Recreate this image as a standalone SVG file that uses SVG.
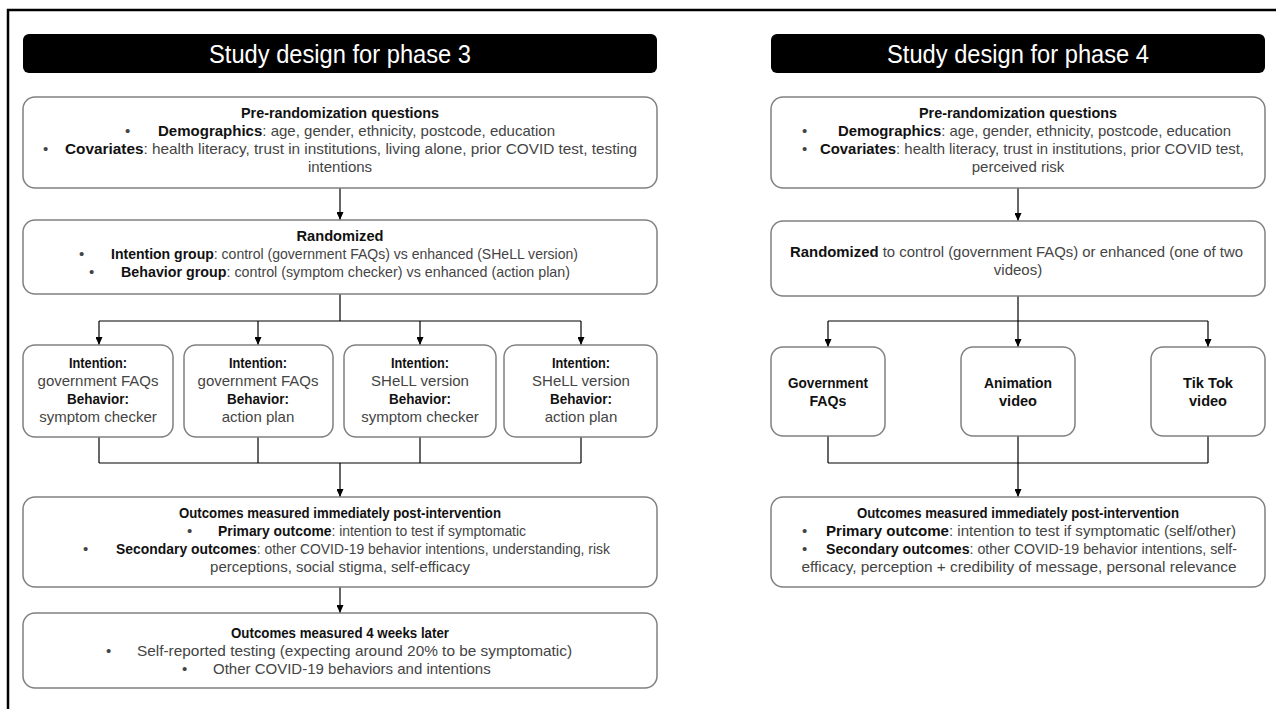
<svg xmlns="http://www.w3.org/2000/svg" width="1276" height="709" viewBox="0 0 1276 709">
<defs>
<style>
.t{font-family:'Liberation Sans',Arial,sans-serif;font-size:15px;fill:#444}
.b{font-weight:bold;fill:#111}
.m{text-anchor:middle}
.box{fill:#fff;stroke:#808080;stroke-width:1.5}
.hdr{fill:#000}
.ht{font-family:'Liberation Sans',Arial,sans-serif;font-size:25px;fill:#fff;text-anchor:middle}
.c{stroke:#000;stroke-width:1.2;fill:none}
.a{stroke:#000;stroke-width:1.2;fill:none;marker-end:url(#ah)}
</style>
<marker id="ah" markerUnits="userSpaceOnUse" markerWidth="8" markerHeight="7" refX="8" refY="3.5" orient="auto" viewBox="0 0 8 7">
<path d="M0,0 L8,3.5 L0,7 z" fill="#000"/>
</marker>
</defs>
<rect width="1276" height="709" fill="#fff"/>
<rect x="8" y="10" width="1320" height="760" fill="none" stroke="#000" stroke-width="2.5"/>

<g id="connectors">
<line class="a" x1="340" y1="188" x2="340" y2="220"/>
<line class="c" x1="340" y1="294" x2="340" y2="321"/>
<line class="c" x1="99" y1="321" x2="581" y2="321"/>
<line class="a" x1="99" y1="321" x2="99" y2="345"/>
<line class="a" x1="258" y1="321" x2="258" y2="345"/>
<line class="a" x1="420" y1="321" x2="420" y2="345"/>
<line class="a" x1="581" y1="321" x2="581" y2="345"/>
<line class="c" x1="99" y1="437" x2="99" y2="463"/>
<line class="c" x1="258" y1="437" x2="258" y2="463"/>
<line class="c" x1="420" y1="437" x2="420" y2="463"/>
<line class="c" x1="581" y1="437" x2="581" y2="463"/>
<line class="c" x1="99" y1="463" x2="581" y2="463"/>
<line class="a" x1="340" y1="463" x2="340" y2="497"/>
<line class="a" x1="340" y1="587" x2="340" y2="613"/>

<line class="a" x1="1018" y1="188" x2="1018" y2="221"/>
<line class="c" x1="1018" y1="296" x2="1018" y2="321"/>
<line class="c" x1="828" y1="321" x2="1208" y2="321"/>
<line class="a" x1="828" y1="321" x2="828" y2="347"/>
<line class="a" x1="1018" y1="321" x2="1018" y2="347"/>
<line class="a" x1="1208" y1="321" x2="1208" y2="347"/>
<line class="c" x1="828" y1="436" x2="828" y2="463"/>
<line class="c" x1="1208" y1="436" x2="1208" y2="463"/>
<line class="c" x1="828" y1="463" x2="1208" y2="463"/>
<line class="a" x1="1018" y1="436" x2="1018" y2="497"/>
</g>

<g id="header3">
<rect class="hdr" x="23" y="34" width="634" height="39" rx="6"/>
<text class="ht" x="340" y="63" textLength="262" lengthAdjust="spacingAndGlyphs">Study design for phase 3</text>
</g>
<g id="header4">
<rect class="hdr" x="771" y="34" width="494" height="39" rx="6"/>
<text class="ht" x="1018" y="63" textLength="262" lengthAdjust="spacingAndGlyphs">Study design for phase 4</text>
</g>

<g id="p3-pre">
<rect class="box" x="23" y="97" width="634" height="91" rx="12"/>
<text class="t b m" x="340" y="118" textLength="198" lengthAdjust="spacingAndGlyphs">Pre-randomization questions</text>
<text class="t" x="125" y="136">•</text>
<text class="t" x="158" y="136" textLength="397" lengthAdjust="spacingAndGlyphs"><tspan class="b">Demographics</tspan>: age, gender, ethnicity, postcode, education</text>
<text class="t" x="43" y="154">•</text>
<text class="t" x="65" y="154" textLength="572" lengthAdjust="spacingAndGlyphs"><tspan class="b">Covariates</tspan>: health literacy, trust in institutions, living alone, prior COVID test, testing</text>
<text class="t m" x="340" y="172">intentions</text>
</g>

<g id="p3-rand">
<rect class="box" x="23" y="220" width="634" height="74" rx="12"/>
<text class="t b m" x="340" y="241" textLength="87" lengthAdjust="spacingAndGlyphs">Randomized</text>
<text class="t" x="79" y="259">•</text>
<text class="t" x="111" y="259" textLength="467" lengthAdjust="spacingAndGlyphs"><tspan class="b">Intention group</tspan>: control (government FAQs) vs enhanced (SHeLL version)</text>
<text class="t" x="89" y="277">•</text>
<text class="t" x="121" y="277" textLength="449" lengthAdjust="spacingAndGlyphs"><tspan class="b">Behavior group</tspan>: control (symptom checker) vs enhanced (action plan)</text>
</g>

<g id="p3-arm1">
<rect class="box" x="23" y="345" width="150" height="92" rx="12"/>
<text class="t b m" x="98" y="368" textLength="58" lengthAdjust="spacingAndGlyphs">Intention:</text>
<text class="t m" x="98" y="386">government FAQs</text>
<text class="t b m" x="98" y="404" textLength="62" lengthAdjust="spacingAndGlyphs">Behavior:</text>
<text class="t m" x="98" y="422">symptom checker</text>
</g>
<g id="p3-arm2">
<rect class="box" x="184" y="345" width="149" height="92" rx="12"/>
<text class="t b m" x="258" y="368" textLength="58" lengthAdjust="spacingAndGlyphs">Intention:</text>
<text class="t m" x="258" y="386">government FAQs</text>
<text class="t b m" x="258" y="404" textLength="62" lengthAdjust="spacingAndGlyphs">Behavior:</text>
<text class="t m" x="258" y="422">action plan</text>
</g>
<g id="p3-arm3">
<rect class="box" x="344" y="345" width="152" height="92" rx="12"/>
<text class="t b m" x="420" y="368" textLength="58" lengthAdjust="spacingAndGlyphs">Intention:</text>
<text class="t m" x="420" y="386">SHeLL version</text>
<text class="t b m" x="420" y="404" textLength="62" lengthAdjust="spacingAndGlyphs">Behavior:</text>
<text class="t m" x="420" y="422">symptom checker</text>
</g>
<g id="p3-arm4">
<rect class="box" x="504" y="345" width="153" height="92" rx="12"/>
<text class="t b m" x="581" y="368" textLength="58" lengthAdjust="spacingAndGlyphs">Intention:</text>
<text class="t m" x="581" y="386">SHeLL version</text>
<text class="t b m" x="581" y="404" textLength="62" lengthAdjust="spacingAndGlyphs">Behavior:</text>
<text class="t m" x="581" y="422">action plan</text>
</g>

<g id="p3-out1">
<rect class="box" x="23" y="497" width="634" height="90" rx="12"/>
<text class="t b m" x="340" y="518" textLength="322" lengthAdjust="spacingAndGlyphs">Outcomes measured immediately post-intervention</text>
<text class="t" x="187" y="536">•</text>
<text class="t" x="218" y="536" textLength="308" lengthAdjust="spacingAndGlyphs"><tspan class="b">Primary outcome</tspan>: intention to test if symptomatic</text>
<text class="t" x="83" y="554">•</text>
<text class="t" x="116" y="554" textLength="494" lengthAdjust="spacingAndGlyphs"><tspan class="b">Secondary outcomes</tspan>: other COVID-19 behavior intentions, understanding, risk</text>
<text class="t m" x="340" y="572">perceptions, social stigma, self-efficacy</text>
</g>

<g id="p3-out2">
<rect class="box" x="23" y="613" width="634" height="75" rx="12"/>
<text class="t b m" x="340" y="638" textLength="218" lengthAdjust="spacingAndGlyphs">Outcomes measured 4 weeks later</text>
<text class="t" x="106" y="656">•</text>
<text class="t" x="137" y="656" textLength="435" lengthAdjust="spacingAndGlyphs">Self-reported testing (expecting around 20% to be symptomatic)</text>
<text class="t" x="182" y="674">•</text>
<text class="t" x="213" y="674">Other COVID-19 behaviors and intentions</text>
</g>

<g id="p4-pre">
<rect class="box" x="771" y="97" width="494" height="91" rx="12"/>
<text class="t b m" x="1018" y="118" textLength="198" lengthAdjust="spacingAndGlyphs">Pre-randomization questions</text>
<text class="t" x="802" y="136">•</text>
<text class="t" x="838" y="136" textLength="393" lengthAdjust="spacingAndGlyphs"><tspan class="b">Demographics</tspan>: age, gender, ethnicity, postcode, education</text>
<text class="t" x="802" y="154">•</text>
<text class="t" x="820" y="154" textLength="424" lengthAdjust="spacingAndGlyphs"><tspan class="b">Covariates</tspan>: health literacy, trust in institutions, prior COVID test,</text>
<text class="t m" x="1018" y="172">perceived risk</text>
</g>

<g id="p4-rand">
<rect class="box" x="771" y="221" width="494" height="75" rx="12"/>
<text class="t" x="790" y="257" textLength="453" lengthAdjust="spacingAndGlyphs"><tspan class="b">Randomized</tspan> to control (government FAQs) or enhanced (one of two</text>
<text class="t m" x="1018" y="275">videos)</text>
</g>

<g id="p4-arm1">
<rect class="box" x="771" y="347" width="114" height="89" rx="12"/>
<text class="t b m" x="828" y="388" textLength="80" lengthAdjust="spacingAndGlyphs">Government</text>
<text class="t b m" x="828" y="406" textLength="37" lengthAdjust="spacingAndGlyphs">FAQs</text>
</g>
<g id="p4-arm2">
<rect class="box" x="961" y="347" width="114" height="89" rx="12"/>
<text class="t b m" x="1018" y="388" textLength="68" lengthAdjust="spacingAndGlyphs">Animation</text>
<text class="t b m" x="1018" y="406" textLength="38" lengthAdjust="spacingAndGlyphs">video</text>
</g>
<g id="p4-arm3">
<rect class="box" x="1151" y="347" width="114" height="89" rx="12"/>
<text class="t b m" x="1208" y="388" textLength="50" lengthAdjust="spacingAndGlyphs">Tik Tok</text>
<text class="t b m" x="1208" y="406" textLength="38" lengthAdjust="spacingAndGlyphs">video</text>
</g>

<g id="p4-out">
<rect class="box" x="771" y="497" width="494" height="90" rx="12"/>
<text class="t b m" x="1018" y="518" textLength="322" lengthAdjust="spacingAndGlyphs">Outcomes measured immediately post-intervention</text>
<text class="t" x="802" y="536">•</text>
<text class="t" x="826" y="536" textLength="410" lengthAdjust="spacingAndGlyphs"><tspan class="b">Primary outcome</tspan>: intention to test if symptomatic (self/other)</text>
<text class="t" x="802" y="554">•</text>
<text class="t" x="826" y="554" textLength="411" lengthAdjust="spacingAndGlyphs"><tspan class="b">Secondary outcomes</tspan>: other COVID-19 behavior intentions, self-</text>
<text class="t m" x="1019" y="572" textLength="435" lengthAdjust="spacingAndGlyphs">efficacy, perception + credibility of message, personal relevance</text>
</g>
</svg>
